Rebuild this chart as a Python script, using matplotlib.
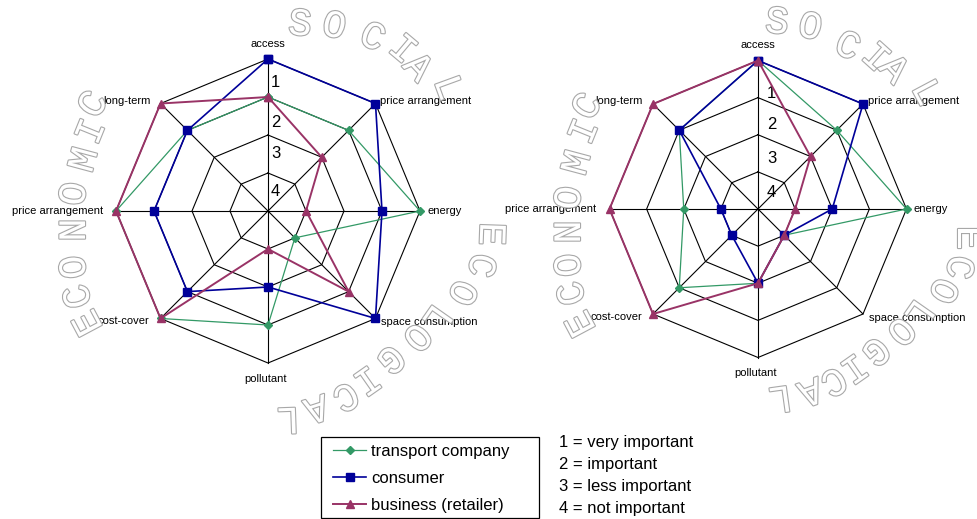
import numpy as np
import matplotlib
matplotlib.use('Agg')
import matplotlib.pyplot as plt
import matplotlib.patheffects as pe
from matplotlib.patches import Rectangle

plt.rcParams['font.family'] = ['Liberation Sans', 'DejaVu Sans']

# spokes, clockwise from the top
categories = ['access', 'price arrangement', 'energy', 'space consumption',
              'pollutant', 'cost-cover', 'price arrangement', 'long-term']

# ratings: 1 = very important ... 4 = not important
left_transport = [2, 2, 1, 4, 2, 1, 1, 2]
left_consumer = [1, 1, 2, 1, 3, 2, 2, 2]
left_business = [2, 3, 4, 2, 4, 1, 1, 1]

right_transport = [1, 2, 1, 4, 3, 2, 3, 2]
right_consumer = [1, 1, 3, 4, 3, 4, 4, 2]
right_business = [1, 3, 4, 4, 3, 1, 1, 1]

series_names = ['transport company', 'consumer', 'business (retailer)']
scale_labels = ['1', '2', '3', '4']
scale_notes = ['1 = very important', '2 = important', '3 = less important', '4 = not important']

W, H = 977, 519
fig = plt.figure(figsize=(W / 100, H / 100), dpi=100)

angles = np.linspace(0, 2 * np.pi, len(categories), endpoint=False)
closed = np.append(angles, angles[0])

styles = [dict(color='#339966', marker='D', markersize=4.5, lw=0.9),
          dict(color='#000099', marker='s', markersize=6, lw=1.2),
          dict(color='#993366', marker='^', markersize=6, lw=1.4)]

# label offsets in pixels from the outer vertex
label_pos = [((0, 15), 'center'), ((5, 3), 'left'), ((7, 0), 'left'), ((6, -4), 'left'),
             ((-2, -16), 'center'), ((-11, -3), 'right'), ((-13, 0), 'right'), ((-10, 3), 'right')]


def radar(cx, cy, R, data, ring_r, ring_dx):
    ax = fig.add_axes([(cx - R) / W, (H - cy - R) / H, 2 * R / W, 2 * R / H],
                      projection='polar')
    ax.set_theta_zero_location('N')
    ax.set_theta_direction(-1)
    ax.set_ylim(0, 4)
    ax.set_xticks([])
    ax.set_yticks([])
    ax.grid(False)
    ax.spines['polar'].set_visible(False)
    ax.patch.set_alpha(0)

    # octagonal grid
    for k in range(1, 5):
        ax.plot(closed, [k] * len(closed), color='black', lw=0.8, clip_on=False)
    for a in angles:
        ax.plot([a, a], [0, 4], color='black', lw=0.8, clip_on=False)

    for txt, r in zip(scale_labels, ring_r):
        ax.annotate(txt, xy=(0, r), xytext=(ring_dx, 0), textcoords='offset pixels',
                    ha='left', va='center', fontsize=12)

    for cat, a, (off, ha) in zip(categories, angles, label_pos):
        ax.annotate(cat, xy=(a, 4), xytext=off, textcoords='offset pixels',
                    ha=ha, va='center', fontsize=8)

    lines = []
    for vals, st in zip(data, styles):
        r = 5 - np.array(vals)
        ln, = ax.plot(closed, np.append(r, r[0]), clip_on=False, zorder=3,
                      markeredgecolor=st['color'], markerfacecolor=st['color'],
                      **st)
        lines.append(ln)
    return lines


handles = radar(268, 211, 152, [left_transport, left_consumer, left_business],
                [3.39, 2.32, 1.5, 0.51], 3)
radar(758, 209, 148.5, [right_transport, right_consumer, right_business],
      [3.10, 2.27, 1.35, 0.45], 9)

# curved words around each chart (x, y, rotation in pixels)
words = [
    ('SOCIAL', [(300, 25, -5), (334, 27, -12), (372, 38, -25), (402, 50, -40),
                (417, 68, -47), (447, 88, -70)]),
    ('ECONOMIC', [(89, 322, 118), (79, 296, 105), (75, 267, 96), (75, 230, 90),
                  (75, 194, 83), (85, 160, 75), (92, 132, 68), (94, 105, 58)]),
    ('ECOLOGICAL', [(490, 234, -92), (480, 265, -103), (461, 292, -115), (436, 317, -125),
                    (416, 336, -133), (390, 358, -140), (366, 379, -145), (345, 395, -152),
                    (316, 407, -162), (288, 418, -178)]),
    ('SOCIAL', [(777, 23, -5), (810, 28, -12), (847, 47, -25), (875, 58, -42),
                (893, 70, -47), (925, 93, -62)]),
    ('ECONOMIC', [(582, 323, 118), (573, 293, 105), (570, 265, 96), (570, 232, 90),
                  (570, 198, 83), (578, 163, 75), (585, 132, 68), (588, 107, 58)]),
    ('ECOLOGICAL', [(968, 238, -90), (958, 267, -100), (942, 290, -115), (918, 312, -125),
                    (900, 330, -135), (875, 350, -140), (853, 367, -145), (833, 380, -150),
                    (810, 390, -160), (780, 397, -172)]),
]

top = fig.add_axes([0, 0, 1, 1], zorder=10)
top.set_xlim(0, W)
top.set_ylim(H, 0)
top.axis('off')
top.patch.set_alpha(0)
for word, spots in words:
    for ch, (x, y, rot) in zip(word, spots):
        top.text(x, y, ch, fontfamily='Liberation Mono', fontsize=28, color='white',
                 ha='center', va='center', rotation=rot, rotation_mode='anchor',
                 path_effects=[pe.Stroke(linewidth=1.6, foreground='#a8a8a8'), pe.Normal()])

# legend box
top.add_patch(Rectangle((320.7, 436.7), 218.6, 81.2, fill=False, edgecolor='black',
                        lw=0.9, clip_on=False))
fig.legend(handles, series_names, loc='center left',
           bbox_to_anchor=(333 / W, 1 - 478.5 / H), borderaxespad=0, borderpad=0,
           fontsize=12, frameon=False, handlelength=2.0, handletextpad=0.3,
           labelspacing=0.71)

for i, note in enumerate(scale_notes):
    fig.text(559 / W, 1 - (442.7 + i * 21.9) / H, note, fontsize=12, va='center', ha='left')

fig.savefig('out.png', dpi=100, facecolor='white')
